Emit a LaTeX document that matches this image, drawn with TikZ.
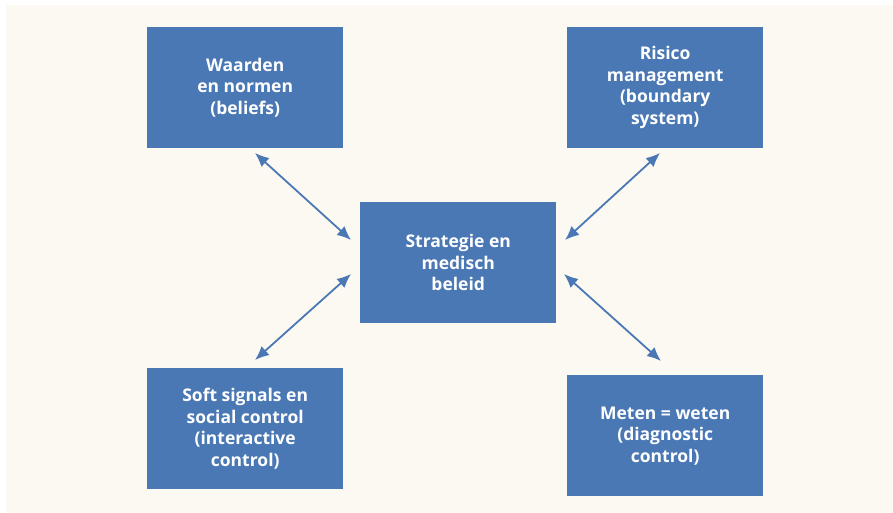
\documentclass[tikz,border=0pt]{standalone}
\usepackage{fontspec}
\setmainfont{Open Sans}
\usetikzlibrary{arrows.meta}
\definecolor{boxblue}{RGB}{74,120,181}
\definecolor{cream}{RGB}{252,249,243}
\begin{document}
\begin{tikzpicture}[x=1pt,y=-1pt,
  box/.style={fill=boxblue,draw=none,minimum width=196pt,minimum height=121pt,anchor=north west,
    text=white,font=\fontsize{17.5}{21.5}\selectfont\bfseries,align=center,inner sep=0pt},
  link/.style={draw=boxblue,line width=1.8pt,{Latex[length=14pt,width=12pt]}-{Latex[length=14pt,width=12pt]}}]
\useasboundingbox (0,0) rectangle (893,513);
\fill[white] (0,0) rectangle (893,513);
\fill[cream] (6,5) rectangle (893,513);
\node[box] (w) at (147,27) {Waarden\\en normen\\(beliefs)};
\node[box] (r) at (567,27) {Risico\\management\\(boundary\\system)};
\node[box] (s) at (360,202) {Strategie en\\medisch\\beleid};
\node[box] (f) at (147,368) {Soft signals en\\social control\\(interactive\\control)};
\node[box] (m) at (567,375) {Meten = weten\\(diagnostic\\control)};
\coordinate (w1) at (255,153);
\coordinate (s1) at (351,240);
\coordinate (r1) at (660,153);
\coordinate (s2) at (565,240);
\coordinate (f1) at (255,360);
\coordinate (s3) at (351,274);
\coordinate (m1) at (661,361);
\coordinate (s4) at (564,274);
\draw[link] (w1) -- (s1);
\draw[link] (r1) -- (s2);
\draw[link] (f1) -- (s3);
\draw[link] (m1) -- (s4);
\end{tikzpicture}
\end{document}
